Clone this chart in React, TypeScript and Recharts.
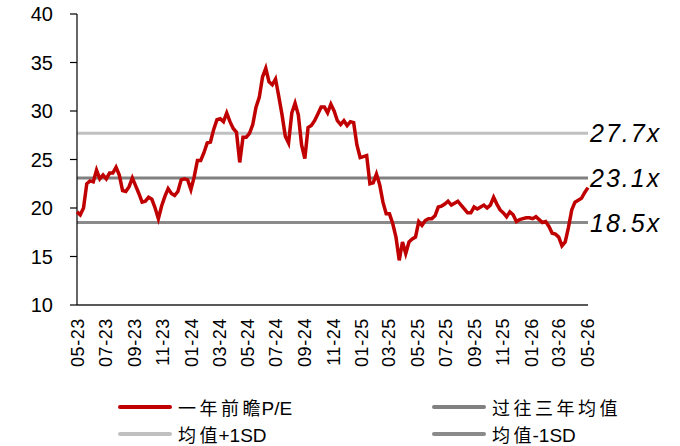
import React from 'react';
import { LineChart, Line, XAxis, YAxis, ReferenceLine } from 'recharts';

// weekly forward P/E readings, first week starting 2023-04-29
const firstWeek = '2023-04-29';
const peValues = [
  19.6, 19.3, 20.0, 22.5, 22.8, 22.7, 23.9, 23.0, 23.4, 23.0,
  23.6, 23.6, 24.2, 23.4, 21.8, 21.7, 22.2, 23.1, 22.3, 21.5,
  20.6, 20.7, 21.1, 20.9, 20.0, 18.9, 20.2, 21.2, 22.0, 21.5,
  21.3, 21.7, 22.9, 23.0, 22.9, 21.9, 23.2, 24.9, 24.9, 25.7,
  26.7, 26.8, 28.1, 29.1, 29.2, 28.9, 29.8, 28.9, 28.2, 27.8,
  24.7, 27.3, 27.3, 27.7, 28.6, 30.4, 31.4, 33.5, 34.4, 33.0,
  32.7, 33.3, 31.5, 29.6, 27.4, 26.7, 29.8, 30.8, 29.6, 26.5,
  25.1, 28.3, 28.5, 29.0, 29.7, 30.4, 30.4, 29.8, 30.7, 30.0,
  29.0, 28.6, 29.0, 28.5, 28.9, 28.8, 26.5, 25.2, 25.3, 25.4,
  22.5, 22.6, 23.5, 22.4, 20.6, 19.4, 19.4, 18.4, 17.0, 14.6,
  16.5, 15.3, 16.5, 16.8, 17.0, 18.6, 18.2, 18.7, 18.9, 18.9,
  19.2, 20.1, 20.2, 20.4, 20.7, 20.3, 20.5, 20.7, 20.3, 19.9,
  19.5, 19.5, 20.1, 19.9, 20.1, 20.3, 20.0, 20.3, 21.1, 20.4,
  19.8, 19.5, 19.1, 19.6, 19.3, 18.6, 18.8, 18.9, 19.0, 19.0,
  18.9, 19.1, 18.8, 18.5, 18.6, 18.1, 17.4, 17.3, 17.0, 16.1,
  16.5, 18.0, 19.8, 20.6, 20.8, 21.0, 21.6, 22.1,
];

const tickLabels = [
  '05-23', '07-23', '09-23', '11-23', '01-24', '03-24', '05-24', '07-24', '09-24', '11-24',
  '01-25', '03-25', '05-25', '07-25', '09-25', '11-25', '01-26', '03-26', '05-26',
];
const yTicks = [10, 15, 20, 25, 30, 35, 40];

const meanPE = 23.1;
const plusSD = 27.7;
const minusSD = 18.5;

const DAY = 86400000;
const start = Date.parse(firstWeek);
const data = peValues.map((v, i) => ({ t: start + i * 7 * DAY, pe: v }));

const labelToTime = (s: string) => {
  const [mm, yy] = s.split('-').map(Number);
  return Date.UTC(2000 + yy, mm - 1, 1);
};
const xTicks = tickLabels.map(labelToTime);
const fmt = (t: number) => tickLabels[xTicks.indexOf(t)] ?? '';

const FONT = '"Liberation Sans", Arial, sans-serif';
const CJK = '"Noto Sans CJK SC", sans-serif';

const DateTick = ({ x, y, payload }: any) => (
  <text
    x={x}
    y={y}
    transform={`rotate(-90 ${x} ${y})`}
    textAnchor="end"
    dominantBaseline="central"
    fontSize={18}
    letterSpacing={0.6}
    fontFamily={FONT}
    fill="#000"
  >
    {fmt(payload.value)}
  </text>
);

const RefLabel = ({ viewBox, text }: any) => (
  <text
    x={viewBox.x + viewBox.width + 2}
    y={viewBox.y}
    dominantBaseline="central"
    fontSize={25}
    fontStyle="italic"
    letterSpacing={2}
    fontFamily={FONT}
    fill="#000"
  >
    {text}
  </text>
);

const legendItems = [
  { name: '一年前瞻P/E', color: '#c00000', left: 118, top: 407 },
  { name: '过往三年均值', color: '#808080', left: 432, top: 407 },
  { name: '均值+1SD', color: '#c0c0c0', left: 118, top: 434 },
  { name: '均值-1SD', color: '#8a8a8a', left: 432, top: 434 },
];

// CJK characters are set wider than the Latin part in the original legend
const LegendText = ({ text }: { text: string }) => (
  <span style={{ marginLeft: 6, fontSize: 18, color: '#000', whiteSpace: 'nowrap' }}>
    {text.split(/([\u4e00-\u9fff]+)/).filter(Boolean).map((part, i) =>
      /[\u4e00-\u9fff]/.test(part) ? (
        <span key={i} style={{ fontFamily: CJK, letterSpacing: 3.5, marginRight: -2.5 }}>{part}</span>
      ) : (
        <span key={i} style={{ fontFamily: FONT, fontSize: 19 }}>{part}</span>
      )
    )}
  </span>
);

export default function App() {
  return (
    <div style={{ position: 'relative', width: 680, height: 446, background: '#fff' }}>
      <style>{'body{margin:0}'}</style>
      <LineChart width={680} height={390} data={data} margin={{ top: 14, right: 92, left: 0, bottom: 0 }}>
        <XAxis
          dataKey="t"
          type="number"
          scale="time"
          domain={['dataMin', 'dataMax']}
          ticks={xTicks}
          interval={0}
          tick={<DateTick />}
          tickLine={false}
          tickSize={0}
          tickMargin={13}
          height={85}
          axisLine={{ stroke: '#595959', strokeWidth: 2 }}
        />
        <YAxis
          domain={[10, 40]}
          ticks={yTicks}
          interval={0}
          width={77}
          tickSize={7}
          tickMargin={17}
          axisLine={{ stroke: '#000', strokeWidth: 1.2 }}
          tickLine={{ stroke: '#000', strokeWidth: 1.2 }}
          tick={{ fontSize: 20, fill: '#000', fontFamily: FONT }}
        />
        <ReferenceLine y={plusSD} stroke="#c0c0c0" strokeWidth={3} label={<RefLabel text="27.7x" />} />
        <ReferenceLine y={meanPE} stroke="#808080" strokeWidth={3} label={<RefLabel text="23.1x" />} />
        <ReferenceLine y={minusSD} stroke="#8a8a8a" strokeWidth={3} label={<RefLabel text="18.5x" />} />
        <Line
          dataKey="pe"
          stroke="#c00000"
          strokeWidth={3.5}
          dot={false}
          type="linear"
          zIndex={1000}
          isAnimationActive={false}
        />
      </LineChart>
      {legendItems.map((it) => (
        <div
          key={it.name}
          style={{
            position: 'absolute',
            left: it.left,
            top: it.top - 12,
            height: 24,
            display: 'flex',
            alignItems: 'center',
          }}
        >
          <div style={{ width: 54, height: 4, background: it.color, borderRadius: 2 }} />
          <LegendText text={it.name} />
        </div>
      ))}
    </div>
  );
}
